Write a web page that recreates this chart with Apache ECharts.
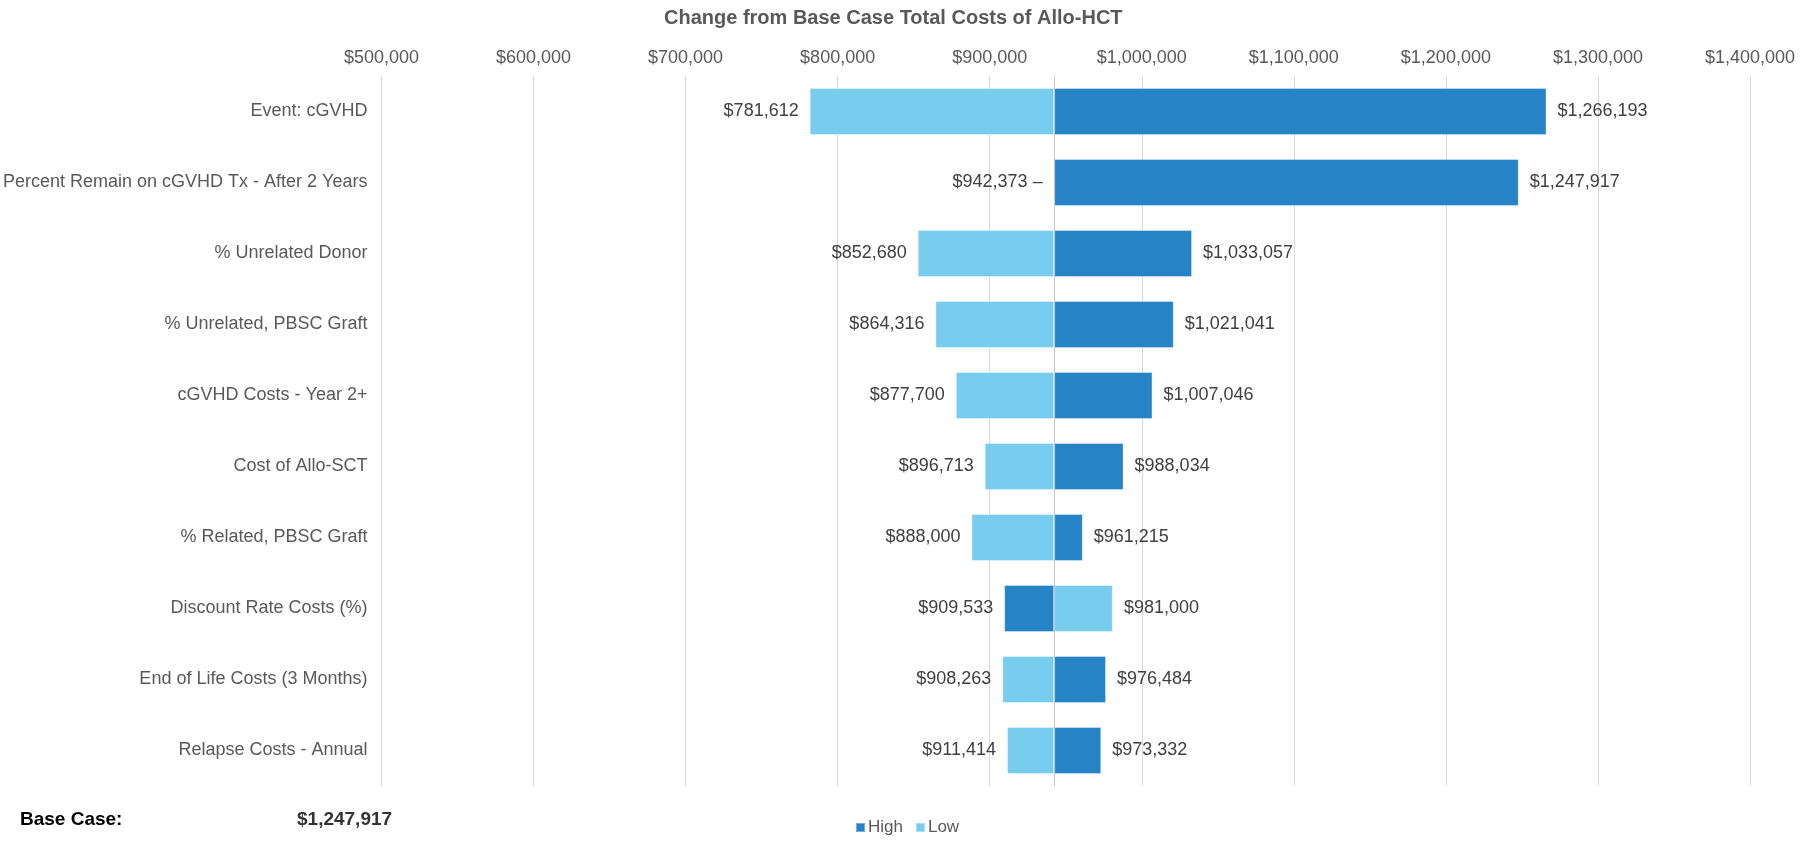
<!DOCTYPE html>
<html>
<head>
<meta charset="utf-8">
<script src="https://cdn.jsdelivr.net/npm/echarts@6/dist/echarts.min.js"></script>
<style>
  html, body { margin: 0; padding: 0; background: #fff; }
  #chart { width: 1800px; height: 843px; }
</style>
</head>
<body>
<div id="chart"></div>
<script>
// ---- data ----
const categories = [
  'Event: cGVHD',
  'Percent Remain on cGVHD Tx - After 2 Years',
  '% Unrelated Donor',
  '% Unrelated, PBSC Graft',
  'cGVHD Costs - Year 2+',
  'Cost of Allo-SCT',
  '% Related, PBSC Graft',
  'Discount Rate Costs (%)',
  'End of Life Costs (3 Months)',
  'Relapse Costs - Annual'
];
const lowValues  = [781612, 942373, 852680, 864316, 877700, 896713, 888000, 981000, 908263, 911414];
const highValues = [1266193, 1247917, 1033057, 1021041, 1007046, 988034, 961215, 909533, 976484, 973332];
const baseValue = 942373;
const baseCaseText = '$1,247,917';
const axisTicks = { min: 500000, max: 1400000, interval: 100000 };

// ---- helpers ----
function money(v) { return '$' + Math.round(v).toLocaleString('en-US'); }
function helper(vals) { return vals.map(v => Math.min(v, baseValue)); }
function visible(vals) {
  return vals.map(v => ({
    value: Math.abs(v - baseValue),
    label: { position: v < baseValue || Math.abs(v - baseValue) < 1 ? 'left' : 'right' }
  }));
}
function labelFmt(vals) {
  return p => {
    const v = vals[p.dataIndex];
    return Math.abs(v - baseValue) < 1 ? money(v) + ' –' : money(v);
  };
}

const FONT = 'Liberation Sans, Arial, sans-serif';
const DARK = '#2683C6', LIGHT = '#78CDEF';
const labelStyle = { show: true, fontSize: 18, color: '#404040', distance: 11, fontFamily: FONT };

const chart = echarts.init(document.getElementById('chart'), null, { renderer: 'canvas' });
chart.setOption({
  animation: false,
  textStyle: { fontFamily: FONT },
  title: {
    text: 'Change from Base Case Total Costs of Allo-HCT',
    left: 659, top: 3,
    textStyle: { fontSize: 20, fontWeight: 'bold', color: '#595959', fontFamily: FONT }
  },
  grid: { left: 381, right: 50, top: 76, height: 710 },
  legend: {
    data: ['High', 'Low'],
    left: 850, top: 814,
    icon: 'rect', itemWidth: 9, itemHeight: 9, itemGap: 12,
    textStyle: { fontSize: 17, color: '#595959', padding: [0, 0, 0, -2] }
  },
  xAxis: {
    type: 'value', position: 'top',
    min: axisTicks.min, max: axisTicks.max, interval: axisTicks.interval,
    axisLine: { show: false }, axisTick: { show: false },
    splitLine: { lineStyle: { color: '#d9d9d9', width: 1 } },
    axisLabel: { fontSize: 18, color: '#595959', margin: 9, formatter: v => money(v) }
  },
  yAxis: {
    type: 'category', data: categories, inverse: true,
    axisLine: { show: false }, axisTick: { show: false },
    axisLabel: { fontSize: 18, color: '#595959', margin: 14 }
  },
  series: [
    { name: '_hHigh', type: 'bar', stack: 'h', data: helper(highValues), barWidth: 47, barGap: '-100%',
      itemStyle: { color: 'rgba(0,0,0,0)' }, silent: true, label: { show: false } },
    { name: 'High', type: 'bar', stack: 'h', data: visible(highValues), barWidth: 47, barGap: '-100%',
      itemStyle: { color: DARK, borderColor: 'rgba(255,255,255,0.35)', borderWidth: 1 },
      label: Object.assign({}, labelStyle, { formatter: labelFmt(highValues) }),
      markLine: {
        silent: true, symbol: 'none', animation: false,
        label: { show: false },
        lineStyle: { color: '#c8c8c8', width: 1, type: 'solid' },
        data: [{ xAxis: baseValue }]
      }
    },
    { name: '_hLow', type: 'bar', stack: 'l', data: helper(lowValues), barWidth: 47, barGap: '-100%',
      itemStyle: { color: 'rgba(0,0,0,0)' }, silent: true, label: { show: false } },
    { name: 'Low', type: 'bar', stack: 'l', data: visible(lowValues), barWidth: 47, barGap: '-100%',
      itemStyle: { color: LIGHT, borderColor: 'rgba(255,255,255,0.35)', borderWidth: 1 },
      label: Object.assign({}, labelStyle, { formatter: labelFmt(lowValues) })
    }
  ],
  graphic: [
    { type: 'text', left: 20, top: 810,
      style: { text: 'Base Case:', font: 'bold 19px Liberation Sans, Arial, sans-serif', fill: '#000' } },
    { type: 'text', left: 297, top: 810,
      style: { text: baseCaseText, font: 'bold 19px Liberation Sans, Arial, sans-serif', fill: '#333' } }
  ]
});
</script>
</body>
</html>
